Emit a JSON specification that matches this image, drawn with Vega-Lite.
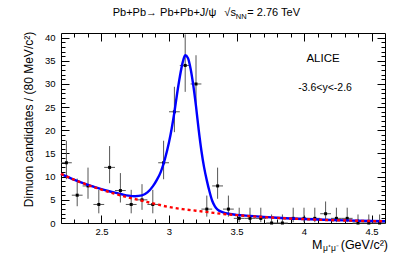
{
  "$schema": "https://vega.github.io/schema/vega-lite/v6.json",
  "width": 324,
  "height": 190,
  "autosize": "none",
  "padding": {"left": 61, "right": 22, "top": 33, "bottom": 31},
  "config": {
    "view": {"stroke": "black", "strokeWidth": 1},
    "font": "Liberation Sans",
    "axis": {"grid": false, "domain": false, "tickColor": "black", "labelColor": "black", "labelFont": "Liberation Sans", "labelFontSize": 9.5, "tickWidth": 1}
  },
  "datasets": {
    "bins": [
      {"m": 2.24, "m_lo": 2.20, "m_hi": 2.28, "n": 13, "lo": 9.44, "hi": 17.75},
      {"m": 2.32, "m_lo": 2.28, "m_hi": 2.36, "n": 6, "lo": 3.62, "hi": 9.58},
      {"m": 2.40, "m_lo": 2.36, "m_hi": 2.44, "n": 8, "lo": 5.23, "hi": 11.95},
      {"m": 2.48, "m_lo": 2.44, "m_hi": 2.52, "n": 4, "lo": 2.09, "hi": 7.16},
      {"m": 2.56, "m_lo": 2.52, "m_hi": 2.60, "n": 12, "lo": 8.58, "hi": 16.6},
      {"m": 2.64, "m_lo": 2.60, "m_hi": 2.68, "n": 7, "lo": 4.42, "hi": 10.77},
      {"m": 2.72, "m_lo": 2.68, "m_hi": 2.76, "n": 4, "lo": 2.09, "hi": 7.16},
      {"m": 2.80, "m_lo": 2.76, "m_hi": 2.84, "n": 5, "lo": 2.84, "hi": 8.38},
      {"m": 2.88, "m_lo": 2.84, "m_hi": 2.92, "n": 4, "lo": 2.09, "hi": 7.16},
      {"m": 2.96, "m_lo": 2.92, "m_hi": 3.00, "n": 13, "lo": 9.44, "hi": 17.75},
      {"m": 3.04, "m_lo": 3.00, "m_hi": 3.08, "n": 24, "lo": 19.6, "hi": 29.4},
      {"m": 3.12, "m_lo": 3.08, "m_hi": 3.16, "n": 34, "lo": 28.3, "hi": 40.7},
      {"m": 3.20, "m_lo": 3.16, "m_hi": 3.24, "n": 30, "lo": 24.8, "hi": 36.2},
      {"m": 3.28, "m_lo": 3.24, "m_hi": 3.32, "n": 3, "lo": 1.37, "hi": 5.92},
      {"m": 3.36, "m_lo": 3.32, "m_hi": 3.40, "n": 8, "lo": 5.23, "hi": 11.95},
      {"m": 3.44, "m_lo": 3.40, "m_hi": 3.48, "n": 3, "lo": 1.37, "hi": 5.92},
      {"m": 3.52, "m_lo": 3.48, "m_hi": 3.56, "n": 1, "lo": 0.17, "hi": 3.3},
      {"m": 3.60, "m_lo": 3.56, "m_hi": 3.64, "n": 1, "lo": 0.17, "hi": 3.3},
      {"m": 3.68, "m_lo": 3.64, "m_hi": 3.72, "n": 1, "lo": 0.17, "hi": 3.3},
      {"m": 3.76, "m_lo": 3.72, "m_hi": 3.80, "n": 0, "lo": 0, "hi": 1.84},
      {"m": 3.84, "m_lo": 3.80, "m_hi": 3.88, "n": 0, "lo": 0, "hi": 1.84},
      {"m": 3.92, "m_lo": 3.88, "m_hi": 3.96, "n": 1, "lo": 0.17, "hi": 3.3},
      {"m": 4.00, "m_lo": 3.96, "m_hi": 4.04, "n": 1, "lo": 0.17, "hi": 3.3},
      {"m": 4.08, "m_lo": 4.04, "m_hi": 4.12, "n": 1, "lo": 0.17, "hi": 3.3},
      {"m": 4.16, "m_lo": 4.12, "m_hi": 4.20, "n": 2, "lo": 0.71, "hi": 4.64},
      {"m": 4.24, "m_lo": 4.20, "m_hi": 4.28, "n": 1, "lo": 0.17, "hi": 3.3},
      {"m": 4.32, "m_lo": 4.28, "m_hi": 4.36, "n": 1, "lo": 0.17, "hi": 3.3},
      {"m": 4.40, "m_lo": 4.36, "m_hi": 4.44, "n": 0, "lo": 0, "hi": 1.84},
      {"m": 4.48, "m_lo": 4.44, "m_hi": 4.52, "n": 0, "lo": 0, "hi": 1.84},
      {"m": 4.56, "m_lo": 4.52, "m_hi": 4.60, "n": 0, "lo": 0, "hi": 1.84}
    ],
    "fit": [
      {"m": 2.20, "v": 10.6}, {"m": 2.30, "v": 9.3}, {"m": 2.40, "v": 8.22}, {"m": 2.50, "v": 7.3},
      {"m": 2.55, "v": 6.9}, {"m": 2.60, "v": 6.55}, {"m": 2.65, "v": 6.2}, {"m": 2.70, "v": 5.9},
      {"m": 2.75, "v": 5.78}, {"m": 2.80, "v": 5.95}, {"m": 2.84, "v": 6.6}, {"m": 2.88, "v": 7.9},
      {"m": 2.91, "v": 9.3}, {"m": 2.94, "v": 11.1}, {"m": 2.97, "v": 13.8}, {"m": 3.00, "v": 17.4},
      {"m": 3.02, "v": 20.4}, {"m": 3.04, "v": 23.9}, {"m": 3.06, "v": 27.9}, {"m": 3.08, "v": 31.5},
      {"m": 3.10, "v": 34.5}, {"m": 3.12, "v": 36.2}, {"m": 3.14, "v": 35.6}, {"m": 3.16, "v": 33.3},
      {"m": 3.18, "v": 29.7}, {"m": 3.20, "v": 25.2}, {"m": 3.22, "v": 20.1}, {"m": 3.24, "v": 15.6},
      {"m": 3.26, "v": 12.0}, {"m": 3.28, "v": 9.2}, {"m": 3.30, "v": 6.8}, {"m": 3.32, "v": 4.8},
      {"m": 3.34, "v": 3.6}, {"m": 3.36, "v": 2.9}, {"m": 3.40, "v": 2.3}, {"m": 3.45, "v": 1.95},
      {"m": 3.50, "v": 1.76}, {"m": 3.60, "v": 1.53}, {"m": 3.70, "v": 1.32}, {"m": 3.80, "v": 1.14},
      {"m": 3.90, "v": 0.98}, {"m": 4.00, "v": 0.85}, {"m": 4.10, "v": 0.74}, {"m": 4.20, "v": 0.64},
      {"m": 4.30, "v": 0.56}, {"m": 4.40, "v": 0.49}, {"m": 4.50, "v": 0.43}, {"m": 4.60, "v": 0.38}
    ],
    "bkg": [
      {"m": 2.20, "v": 10.6}, {"m": 2.30, "v": 9.3}, {"m": 2.40, "v": 8.2}, {"m": 2.50, "v": 7.2},
      {"m": 2.60, "v": 6.3}, {"m": 2.70, "v": 5.5}, {"m": 2.80, "v": 4.8}, {"m": 2.90, "v": 4.1},
      {"m": 3.00, "v": 3.45}, {"m": 3.10, "v": 3.0}, {"m": 3.20, "v": 2.65}, {"m": 3.30, "v": 2.3},
      {"m": 3.40, "v": 1.95}, {"m": 3.50, "v": 1.7}, {"m": 3.60, "v": 1.48}, {"m": 3.70, "v": 1.28},
      {"m": 3.80, "v": 1.1}, {"m": 3.90, "v": 0.95}, {"m": 4.00, "v": 0.83}, {"m": 4.10, "v": 0.72},
      {"m": 4.20, "v": 0.62}, {"m": 4.30, "v": 0.54}, {"m": 4.40, "v": 0.47}, {"m": 4.50, "v": 0.41},
      {"m": 4.60, "v": 0.36}
    ]
  },
  "resolve": {"axis": {"x": "independent", "y": "independent"}},
  "layer": [
    {
      "data": {"name": "bins"},
      "mark": {"type": "rule", "color": "#555555", "strokeWidth": 1},
      "encoding": {
        "x": {"field": "m", "type": "quantitative", "scale": {"domain": [2.2, 4.6], "nice": false, "zero": false},
          "axis": {"orient": "bottom", "title": null,
            "values": [2.3, 2.4, 2.5, 2.6, 2.7, 2.8, 2.9, 3, 3.1, 3.2, 3.3, 3.4, 3.5, 3.6, 3.7, 3.8, 3.9, 4, 4.1, 4.2, 4.3, 4.4, 4.5],
            "tickSize": {"condition": {"test": "abs(datum.value*2-round(datum.value*2))<0.001", "value": -8}, "value": -4},
            "labelExpr": "abs(datum.value*2-round(datum.value*2))<0.001 ? format(datum.value, '~g') : ''",
            "labelPadding": 11, "labelFlush": false, "labelOverlap": false}},
        "y": {"field": "lo", "type": "quantitative", "scale": {"domain": [0, 41], "nice": false},
          "axis": {"orient": "left", "title": "Dimuon candidates / (80 MeV/c²)",
            "values": [0, 1, 2, 3, 4, 5, 6, 7, 8, 9, 10, 11, 12, 13, 14, 15, 16, 17, 18, 19, 20, 21, 22, 23, 24, 25, 26, 27, 28, 29, 30, 31, 32, 33, 34, 35, 36, 37, 38, 39, 40],
            "tickSize": {"condition": {"test": "datum.value % 5 == 0", "value": -8}, "value": -4},
            "labelExpr": "datum.value % 5 == 0 ? format(datum.value, 'd') : ''",
            "labelPadding": 14, "labelFlush": false, "labelOverlap": false,
            "titleFont": "Liberation Sans", "titleFontSize": 12, "titleFontWeight": "normal", "titleColor": "black",
            "titleX": -33, "titleY": 86, "titleAngle": 270, "titleAlign": "center", "titleBaseline": "middle"}},
        "y2": {"field": "hi"}
      }
    },
    {
      "data": {"name": "bins"},
      "mark": {"type": "rule", "color": "#555555", "strokeWidth": 1},
      "encoding": {
        "x": {"field": "m_lo", "type": "quantitative",
          "axis": {"orient": "top", "title": null, "labels": false,
            "values": [2.3, 2.4, 2.5, 2.6, 2.7, 2.8, 2.9, 3, 3.1, 3.2, 3.3, 3.4, 3.5, 3.6, 3.7, 3.8, 3.9, 4, 4.1, 4.2, 4.3, 4.4, 4.5],
            "tickSize": {"condition": {"test": "abs(datum.value*2-round(datum.value*2))<0.001", "value": -8}, "value": -4}}},
        "x2": {"field": "m_hi"},
        "y": {"field": "n", "type": "quantitative",
          "axis": {"orient": "right", "title": null, "labels": false,
            "values": [1, 2, 3, 4, 5, 6, 7, 8, 9, 10, 11, 12, 13, 14, 15, 16, 17, 18, 19, 20, 21, 22, 23, 24, 25, 26, 27, 28, 29, 30, 31, 32, 33, 34, 35, 36, 37, 38, 39, 40],
            "tickSize": {"condition": {"test": "datum.value % 5 == 0", "value": -8}, "value": -4}}}
      }
    },
    {
      "data": {"name": "bins"},
      "mark": {"type": "point", "shape": "square", "filled": true, "color": "black", "size": 9, "opacity": 1},
      "encoding": {
        "x": {"field": "m", "type": "quantitative", "axis": null},
        "y": {"field": "n", "type": "quantitative", "axis": null}
      }
    },
    {
      "data": {"name": "fit"},
      "mark": {"type": "line", "color": "#0000ff", "strokeWidth": 2.4, "interpolate": "monotone"},
      "encoding": {
        "x": {"field": "m", "type": "quantitative", "axis": null},
        "y": {"field": "v", "type": "quantitative", "axis": null}
      }
    },
    {
      "data": {"name": "bkg"},
      "mark": {"type": "line", "color": "#ff0000", "strokeWidth": 2.4, "strokeDash": [3, 3], "interpolate": "monotone"},
      "encoding": {
        "x": {"field": "m", "type": "quantitative", "axis": null},
        "y": {"field": "v", "type": "quantitative", "axis": null}
      }
    },
    {
      "data": {"values": [{}]},
      "mark": {"type": "text", "text": "Pb+Pb→ Pb+Pb+J/ψ", "align": "right", "baseline": "alphabetic", "fontSize": 11, "color": "black"},
      "encoding": {"x": {"datum": 3.35, "type": "quantitative", "axis": null}, "y": {"datum": 44.67, "type": "quantitative", "axis": null}}
    },
    {
      "data": {"values": [{}]},
      "mark": {"type": "text", "text": "√s", "align": "left", "baseline": "alphabetic", "fontSize": 11, "color": "black"},
      "encoding": {"x": {"datum": 3.41, "type": "quantitative", "axis": null}, "y": {"datum": 44.67, "type": "quantitative", "axis": null}}
    },
    {
      "data": {"values": [{}]},
      "mark": {"type": "text", "text": "NN", "align": "left", "baseline": "alphabetic", "fontSize": 7.5, "color": "black"},
      "encoding": {"x": {"datum": 3.495, "type": "quantitative", "axis": null}, "y": {"datum": 44.0, "type": "quantitative", "axis": null}}
    },
    {
      "data": {"values": [{}]},
      "mark": {"type": "text", "text": "= 2.76 TeV", "align": "left", "baseline": "alphabetic", "fontSize": 11, "color": "black"},
      "encoding": {"x": {"datum": 3.58, "type": "quantitative", "axis": null}, "y": {"datum": 44.67, "type": "quantitative", "axis": null}}
    },
    {
      "data": {"values": [{}]},
      "mark": {"type": "text", "text": "ALICE", "align": "center", "baseline": "alphabetic", "fontSize": 11.5, "color": "black"},
      "encoding": {"x": {"datum": 4.141, "type": "quantitative", "axis": null}, "y": {"datum": 34.74, "type": "quantitative", "axis": null}}
    },
    {
      "data": {"values": [{}]},
      "mark": {"type": "text", "text": "-3.6<y<-2.6", "align": "center", "baseline": "alphabetic", "fontSize": 10.5, "color": "black"},
      "encoding": {"x": {"datum": 4.156, "type": "quantitative", "axis": null}, "y": {"datum": 28.5, "type": "quantitative", "axis": null}}
    },
    {
      "data": {"values": [{}]},
      "mark": {"type": "text", "text": "M", "align": "left", "baseline": "alphabetic", "fontSize": 12.5, "color": "black"},
      "encoding": {"x": {"datum": 4.059, "type": "quantitative", "axis": null}, "y": {"datum": -5.6, "type": "quantitative", "axis": null}}
    },
    {
      "data": {"values": [{}]},
      "mark": {"type": "text", "text": "μ⁺μ⁻", "align": "left", "baseline": "alphabetic", "fontSize": 8.5, "color": "black"},
      "encoding": {"x": {"datum": 4.141, "type": "quantitative", "axis": null}, "y": {"datum": -6.1, "type": "quantitative", "axis": null}}
    },
    {
      "data": {"values": [{}]},
      "mark": {"type": "text", "text": "(GeV/c²)", "align": "right", "baseline": "alphabetic", "fontSize": 12.5, "color": "black"},
      "encoding": {"x": {"datum": 4.622, "type": "quantitative", "axis": null}, "y": {"datum": -5.6, "type": "quantitative", "axis": null}}
    }
  ]
}
